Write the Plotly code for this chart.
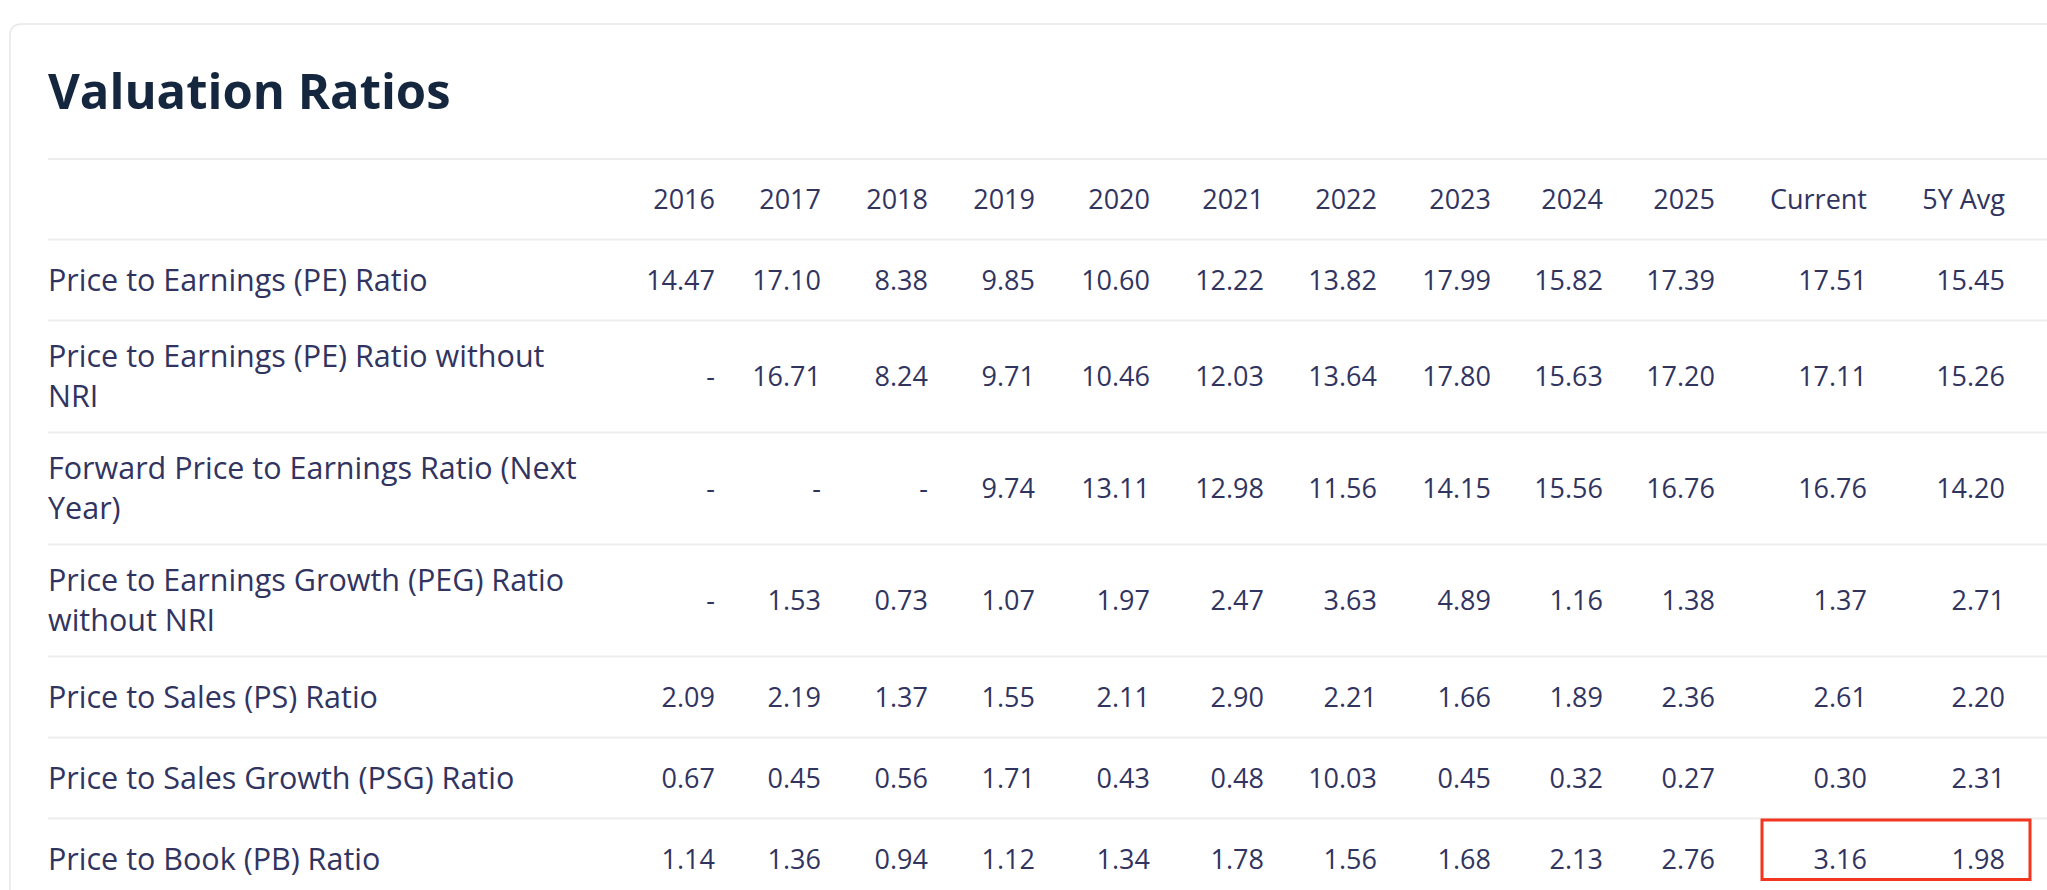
import plotly.graph_objects as go

# ---------------- data ----------------
COLUMNS = ["2016", "2017", "2018", "2019", "2020", "2021", "2022", "2023",
           "2024", "2025", "Current", "5Y Avg"]

ROW_LABELS = [
    "Price to Earnings (PE) Ratio",
    "Price to Earnings (PE) Ratio without<br>NRI",
    "Forward Price to Earnings Ratio (Next<br>Year)",
    "Price to Earnings Growth (PEG) Ratio<br>without NRI",
    "Price to Sales (PS) Ratio",
    "Price to Sales Growth (PSG) Ratio",
    "Price to Book (PB) Ratio",
]

PE_RATIO = [14.47, 17.10, 8.38, 9.85, 10.60, 12.22, 13.82, 17.99, 15.82, 17.39, 17.51, 15.45]
PE_WITHOUT_NRI = [None, 16.71, 8.24, 9.71, 10.46, 12.03, 13.64, 17.80, 15.63, 17.20, 17.11, 15.26]
FORWARD_PE = [None, None, None, 9.74, 13.11, 12.98, 11.56, 14.15, 15.56, 16.76, 16.76, 14.20]
PEG_WITHOUT_NRI = [None, 1.53, 0.73, 1.07, 1.97, 2.47, 3.63, 4.89, 1.16, 1.38, 1.37, 2.71]
PS_RATIO = [2.09, 2.19, 1.37, 1.55, 2.11, 2.90, 2.21, 1.66, 1.89, 2.36, 2.61, 2.20]
PSG_RATIO = [0.67, 0.45, 0.56, 1.71, 0.43, 0.48, 10.03, 0.45, 0.32, 0.27, 0.30, 2.31]
PB_RATIO = [1.14, 1.36, 0.94, 1.12, 1.34, 1.78, 1.56, 1.68, 2.13, 2.76, 3.16, 1.98]

ROW_VALUES = [PE_RATIO, PE_WITHOUT_NRI, FORWARD_PE, PEG_WITHOUT_NRI,
              PS_RATIO, PSG_RATIO, PB_RATIO]

TITLE = "Valuation Ratios"
HIGHLIGHT_ROW = "Price to Book (PB) Ratio"
HIGHLIGHT_COLS = ["Current", "5Y Avg"]

# ---------------- layout / style ----------------
W, H = 2047, 890
LEFT = 48
COL_RIGHT = [715, 821, 928, 1035, 1150, 1264, 1377, 1491, 1603, 1715, 1867, 2005]
HEADER_TOP = 159
HEADER_H = 80.5
ROW_H = {1: 81, 2: 112}
TEXT_DY = 3

TEXT_COLOR = "#31345f"
TITLE_COLOR = "#15263f"
RULE_COLOR = "#ededed"
FONT = "Open Sans"

fig = go.Figure()

# header
header_y = HEADER_TOP + HEADER_H / 2 + TEXT_DY
fig.add_trace(go.Scatter(
    x=COL_RIGHT, y=[header_y] * len(COLUMNS), text=COLUMNS,
    mode="text", textposition="middle left",
    textfont=dict(family=FONT, size=27, color=TEXT_COLOR),
    hoverinfo="skip", showlegend=False, cliponaxis=False))

rules = [HEADER_TOP, HEADER_TOP + HEADER_H]
y0 = HEADER_TOP + HEADER_H
row_bounds = {}
lab_x, lab_y = [], []
val_x, val_y, val_t = [], [], []
for label, values in zip(ROW_LABELS, ROW_VALUES):
    nlines = len(label.split("<br>"))
    h = ROW_H[nlines]
    c = y0 + h / 2
    lab_x.append(LEFT)
    lab_y.append(c + TEXT_DY)
    for j, v in enumerate(values):
        val_x.append(COL_RIGHT[j])
        val_y.append(c + TEXT_DY)
        val_t.append("-" if v is None else f"{v:.2f}")
    row_bounds[label] = (y0, y0 + h)
    y0 += h
    rules.append(y0)

fig.add_trace(go.Scatter(
    x=lab_x, y=lab_y, text=ROW_LABELS, mode="text", textposition="middle right",
    textfont=dict(family=FONT, size=30.5, color=TEXT_COLOR),
    hoverinfo="skip", showlegend=False, cliponaxis=False))

fig.add_trace(go.Scatter(
    x=val_x, y=val_y, text=val_t, mode="text", textposition="middle left",
    textfont=dict(family=FONT, size=27, color=TEXT_COLOR),
    hoverinfo="skip", showlegend=False, cliponaxis=False))

shapes = []
# card outline (rounded top-left corner)
shapes.append(dict(
    type="path", xref="x", yref="y",
    path=f"M 10,{H + 20} L 10,36 Q 10,24 22,24 L {W + 20},24",
    line=dict(color="#e7e7e7", width=1.5)))
for r in rules:
    shapes.append(dict(type="line", xref="x", yref="y", x0=LEFT, x1=W, y0=r, y1=r,
                       line=dict(color=RULE_COLOR, width=2)))

# highlight box
rt, rb = row_bounds[HIGHLIGHT_ROW]
ci = [COLUMNS.index(c) for c in HIGHLIGHT_COLS]
shapes.append(dict(
    type="rect", xref="x", yref="y",
    x0=COL_RIGHT[ci[0]] - 105, x1=COL_RIGHT[ci[-1]] + 25,
    y0=rt + 1.5, y1=rt + 61,
    line=dict(color="#f2351f", width=3), fillcolor="rgba(0,0,0,0)"))

fig.update_layout(
    width=W, height=H,
    margin=dict(l=0, r=0, t=0, b=0),
    paper_bgcolor="white", plot_bgcolor="white",
    shapes=shapes,
    title=dict(text=TITLE, x=LEFT / W, xanchor="left", xref="paper",
               y=1 - 92 / H, yanchor="middle", yref="paper",
               font=dict(family=FONT, size=49, color=TITLE_COLOR, weight="bold")),
    xaxis=dict(range=[0, W], visible=False, fixedrange=True),
    yaxis=dict(range=[H, 0], visible=False, fixedrange=True),
)

fig.write_html("out.html", config={"displayModeBar": False},
               post_script="document.body.style.margin='0';document.body.style.overflow='hidden';")
